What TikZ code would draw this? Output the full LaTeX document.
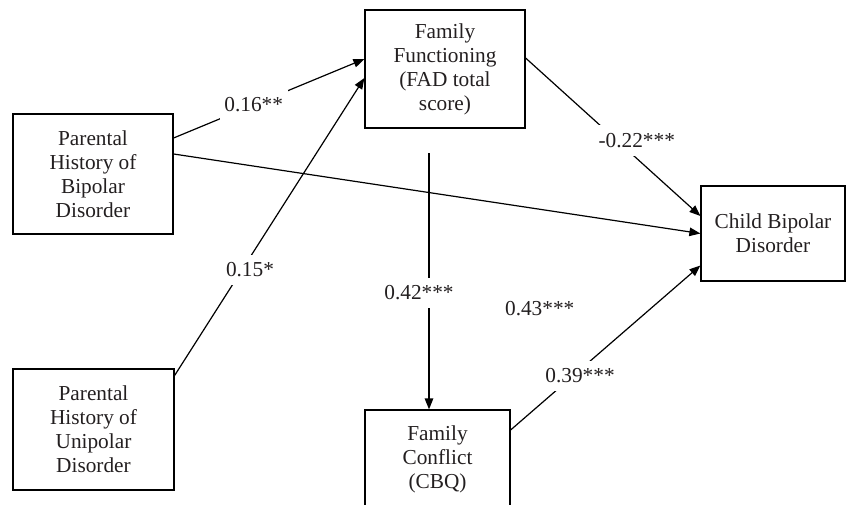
\documentclass[tikz,border=0pt]{standalone}
\usepackage{fontspec}
\setmainfont{Liberation Serif}
\usepackage{tikz}
\usetikzlibrary{arrows.meta}

\begin{document}
\begin{tikzpicture}[x=1pt,y=-1pt,line cap=rect,
		box/.style={draw=black, line width=1.2pt, align=center, inner sep=0pt, text=textcol, font=\fontsize{21.3pt}{24pt}\selectfont},
		coef/.style={inner xsep=4.5pt, inner ysep=8pt, fill=white, text=textcol, font=\fontsize{21.3pt}{24pt}\selectfont},
		effect/.style={draw=black, line width=1.2pt, -{Triangle[length=11pt,width=8.5pt]}}]
				\definecolor{textcol}{RGB}{35, 31, 32}
				\useasboundingbox (0.0,0.0) rectangle (846.0,505.0);
				% boxes
				\node[box, minimum width=160pt, minimum height=120pt] (bipolarhist) at (93.0,174.0) {Parental\\History of\\Bipolar\\Disorder};
				\node[box, minimum width=161pt, minimum height=121pt] (unipolarhist) at (93.5,429.5) {Parental\\History of\\Unipolar\\Disorder};
				\node[box, minimum width=160pt, minimum height=118pt] (famfunc) at (445.0,69.0) {Family\\Functioning\\(FAD total\\score)};
				\node[box, minimum width=145pt, minimum height=98pt] (famconf) at (437.5,459.0) {Family\\Conflict\\(CBQ)};
				\node[box, minimum width=144pt, minimum height=95pt] (childbp) at (773.0,233.5) {Child Bipolar\\Disorder};
				\coordinate (funcdrop) at ([xshift=-16pt,yshift=-25pt]famfunc.south);
				% paths
				\draw[effect] ([yshift=36pt]bipolarhist.east) -- node[coef, pos=0.42] {0.16**} ([yshift=10pt]famfunc.west);
				\draw[effect] ([yshift=20pt]bipolarhist.east) -- node[coef, fill=none, pos=0.695, yshift=-99pt] {0.43***} (childbp.west);
				\draw[effect] ([yshift=54pt]unipolarhist.east) -- node[coef, pos=0.355, xshift=8pt] {0.15*} ([yshift=-9pt]famfunc.west);
				\draw[effect] ([yshift=11pt]famfunc.east) -- node[coef, pos=0.636, yshift=18pt] {-0.22***} ([yshift=17.5pt]childbp.west);
				\draw[effect] (funcdrop) -- node[coef, pos=0.545, xshift=-10pt] {0.42***} (funcdrop |- famconf.north);
				\draw[effect] ([yshift=29pt]famconf.east) -- node[coef, pos=0.366, yshift=-6pt] {0.39***} ([yshift=-32pt]childbp.west);
			\end{tikzpicture}
\end{document}
